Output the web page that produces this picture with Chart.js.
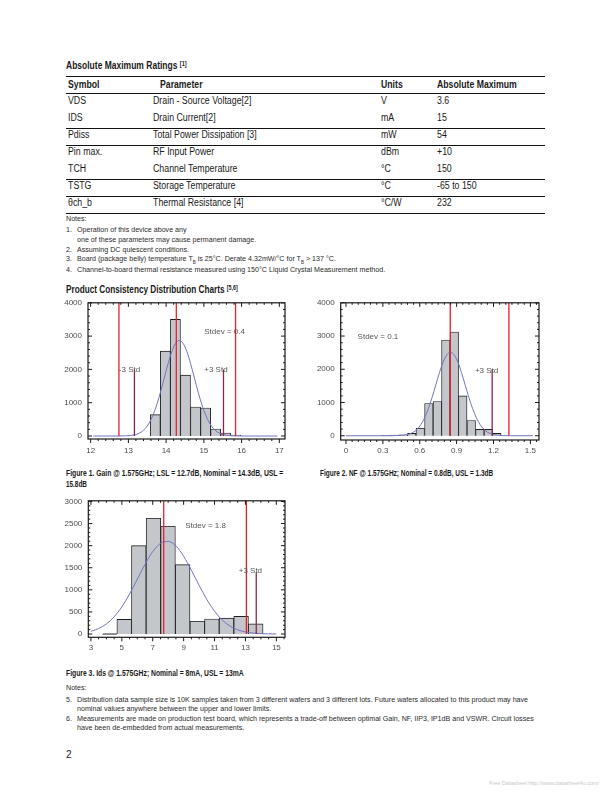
<!DOCTYPE html>
<html>
<head>
<meta charset="utf-8">
<script src="https://cdn.jsdelivr.net/npm/chart.js@4.4.0/dist/chart.umd.min.js"></script>
<style>
  body { margin: 0; width: 612px; height: 792px; background: #fff; position: relative; overflow: hidden;
         font-family: "Liberation Sans", Arial, sans-serif; color: #1a1a1a; }
  .t { position: absolute; white-space: nowrap; line-height: 12px; height: 12px; transform-origin: 0 50%; }
  .b { font-weight: bold; }
  .rule { position: absolute; left: 66px; width: 479px; height: 1.4px; background: #111; }
  .tbl { font-size: 10px; transform: scaleX(.88); }
  .tbl.b { transform: scaleX(.87); }
  .head { font-size: 10px; font-weight: bold; }
  .note { font-size: 8px; color: #2a2a2a; }
  .cap { font-size: 8.5px; font-weight: bold; }
  sup { font-size: 6.5px; vertical-align: 3px; }
  canvas { position: absolute; }
</style>
</head>
<body>

<div class="t head" style="left:66px;top:58px;transform:scaleX(.85)">Absolute Maximum Ratings <sup>[1]</sup></div>
<div class="rule" style="top:76px"></div>
<div class="t b tbl" style="left:68px;top:79px">Symbol</div>
<div class="t b tbl" style="left:160px;top:79px">Parameter</div>
<div class="t b tbl" style="left:381px;top:79px">Units</div>
<div class="t b tbl" style="left:437px;top:79px">Absolute Maximum</div>
<div class="rule" style="top:93px"></div>
<div id="rows"></div>

<div class="t note" style="left:66px;top:213px">Notes:</div>
<div class="t note" style="left:66px;top:224px">1.</div><div class="t note" style="left:77px;top:224px">Operation of this device above any</div>
<div class="t note" style="left:77px;top:234px">one of these parameters may cause permanent damage.</div>
<div class="t note" style="left:66px;top:244px">2.</div><div class="t note" style="left:77px;top:244px">Assuming DC quiescent conditions.</div>
<div class="t note" style="left:66px;top:253px">3.</div><div class="t note" style="left:77px;top:253px">Board (package belly) temperature T<sub style="font-size:5px">B</sub> is 25°C. Derate 4.32mW/°C for T<sub style="font-size:5px">B</sub> &gt; 137 °C.</div>
<div class="t note" style="left:66px;top:264px">4.</div><div class="t note" style="left:77px;top:264px">Channel-to-board thermal resistance measured using 150°C Liquid Crystal Measurement method.</div>

<div class="t head" style="left:66px;top:282px;transform:scaleX(.82)">Product Consistency Distribution Charts <sup>[5,6]</sup></div>

<canvas id="c1" width="240" height="165" style="left:55px;top:292px"></canvas>
<canvas id="c2" width="245" height="165" style="left:305px;top:292px"></canvas>
<canvas id="c3" width="240" height="165" style="left:55px;top:490px"></canvas>

<div class="t cap" data-w="217" style="left:66px;top:467px">Figure 1. Gain @ 1.575GHz; LSL = 12.7dB, Nominal = 14.3dB, USL =</div>
<div class="t cap" data-w="21" style="left:66px;top:478px">15.8dB</div>
<div class="t cap" data-w="173" style="left:320px;top:467px">Figure 2. NF @ 1.575GHz; Nominal = 0.8dB, USL = 1.3dB</div>
<div class="t cap" data-w="178" style="left:66px;top:667px">Figure 3. Ids @ 1.575GHz; Nominal = 8mA, USL = 13mA</div>

<div class="t note" style="left:66px;top:682px">Notes:</div>
<div class="t note" style="left:66px;top:694px">5.</div><div class="t note" id="noteRef" style="left:77px;top:694px">Distribution data sample size is 10K samples taken from 3 different wafers and 3 different lots. Future wafers allocated to this product may have</div>
<div class="t note" style="left:77px;top:703px">nominal values anywhere between the upper and lower limits.</div>
<div class="t note" style="left:66px;top:713px">6.</div><div class="t note" style="left:77px;top:713px">Measurements are made on production test board, which represents a trade-off between optimal Gain, NF, IIP3, IP1dB and VSWR. Circuit losses</div>
<div class="t note" style="left:77px;top:722px">have been de-embedded from actual measurements.</div>

<div class="t" style="left:66px;top:749px;font-size:10px">2</div>
<div class="t" style="left:489px;top:777px;font-size:5.5px;color:#c8c8c8">Free Datasheet http://www.datasheet4u.com/</div>

<script>
const FONT = '"Liberation Sans", Arial, sans-serif';

// table
const symbols = ['VDS', 'IDS', 'Pdiss', 'Pin max.', 'TCH', 'TSTG', 'θch_b'];
const params = ['Drain - Source Voltage[2]', 'Drain Current[2]', 'Total Power Dissipation [3]', 'RF Input Power', 'Channel Temperature', 'Storage Temperature', 'Thermal Resistance [4]'];
const units = ['V', 'mA', 'mW', 'dBm', '°C', '°C', '°C/W'];
const absMax = ['3.6', '15', '54', '+10', '150', '-65 to 150', '232'];
const rulesAfter = [1, 2, 4, 5, 6];

// Figure 1 - gain
const gainBins = [13.713, 13.98, 14.247, 14.513, 14.78, 15.047, 15.313, 15.58, 15.847];
const gainCounts = [640, 2550, 3500, 1830, 870, 840, 210, 90, 30];
const gainCurveX = [12.07, 12.75, 12.95, 13.15, 13.25, 13.35, 13.45, 13.55, 13.65, 13.75, 13.85, 13.95, 14.05, 14.15, 14.25, 14.35, 14.45, 14.55, 14.65, 14.75, 14.85, 14.95, 15.05, 15.15, 15.25, 15.35, 15.45, 15.55, 15.75, 15.95, 16.95];
const gainCurveY = [0, 0, 6, 32, 65, 126, 228, 388, 621, 932, 1314, 1741, 2166, 2533, 2781, 2870, 2781, 2533, 2166, 1741, 1314, 932, 621, 388, 228, 126, 65, 32, 6, 0, 0];
const gainLimits = [12.75, 14.27, 15.84];
const gainStd = [13.16, 15.52];
const gainXTicks = [12, 13, 14, 15, 16, 17];

// Figure 2 - NF
const nfBins = [0.328, 0.397, 0.466, 0.535, 0.604, 0.674, 0.743, 0.812, 0.881, 0.950, 1.019, 1.089, 1.158, 1.227];
const nfCounts = [10, 20, 30, 70, 230, 970, 1030, 2880, 3120, 1200, 460, 190, 190, 70];
const nfCurveX = [0, 0.37, 0.43, 0.49, 0.52, 0.55, 0.58, 0.61, 0.64, 0.67, 0.70, 0.73, 0.76, 0.79, 0.82, 0.85, 0.88, 0.91, 0.94, 0.97, 1.00, 1.03, 1.06, 1.09, 1.12, 1.15, 1.18, 1.21, 1.27, 1.33, 1.52];
const nfCurveY = [0, 0, 6, 28, 57, 110, 200, 340, 543, 815, 1149, 1522, 1895, 2215, 2432, 2510, 2432, 2215, 1895, 1522, 1149, 815, 543, 340, 200, 110, 57, 28, 6, 0, 0];
const nfLimits = [0.848, 1.325];
const nfStd = [1.189];
const nfXTicks = [0, 0.3, 0.6, 0.9, 1.2, 1.5];
const nfXLabels = ['0', '0.3', '0.6', '0.9', '1.2', '1.5'];

// Figure 3 - Ids
const idsBins = [5.153, 6.099, 7.045, 7.991, 8.937, 9.883, 10.829, 11.775, 12.721, 13.667];
const idsCounts = [330, 2000, 2620, 2440, 1570, 290, 340, 360, 400, 230];
const idsCurveX = [3, 3.5, 4, 4.5, 5, 5.5, 6, 6.5, 7, 7.5, 8, 8.5, 9, 9.5, 10, 10.5, 11, 11.5, 12, 12.5, 13, 13.5, 14, 15];
const idsCurveY = [63, 124, 228, 388, 614, 906, 1239, 1577, 1866, 2052, 2097, 1993, 1760, 1445, 1103, 783, 516, 316, 180, 95, 47, 22, 9, 0];
const idsLimits = [7.71, 13.06];
const idsStd = [13.7];
const idsBase = [3.76, 4.68];
const idsXTicks = [3, 5, 7, 9, 11, 13, 15];

const countTicks4k = [0, 1000, 2000, 3000, 4000];
const countTicks3k = [0, 500, 1000, 1500, 2000, 2500, 3000];

// build table rows
const rowsEl = document.getElementById('rows');
symbols.forEach((s, i) => {
  const top = 95 + i * 17;
  [[68, s], [153, params[i]], [381, units[i]], [437, absMax[i]]].forEach(([l, txt]) => {
    const d = document.createElement('div');
    d.className = 't tbl'; d.style.left = l + 'px'; d.style.top = top + 'px'; d.textContent = txt;
    rowsEl.appendChild(d);
  });
  if (rulesAfter.includes(i)) {
    const r = document.createElement('div');
    r.className = 'rule'; r.style.top = (top + 15.5) + 'px';
    rowsEl.appendChild(r);
  }
});

// squeeze text to the condensed widths of the original
document.querySelectorAll('[data-w]').forEach(el => {
  el.style.transform = 'scaleX(' + (+el.dataset.w / el.offsetWidth) + ')';
});
const noteScale = 451 / document.getElementById('noteRef').offsetWidth;
document.querySelectorAll('.note').forEach(el => { el.style.transform = 'scaleX(' + noteScale + ')'; });

// frame, inward ticks and text notes
const framePlugin = {
  id: 'frame',
  afterDatasetsDraw(chart, args, o) {
    const { ctx, chartArea: a, scales: { x, y } } = chart;
    ctx.save();
    ctx.strokeStyle = '#1a1a1a'; ctx.lineWidth = 1.2;
    ctx.strokeRect(a.left, a.top, a.right - a.left, a.bottom - a.top);
    ctx.lineWidth = 1;
    ctx.beginPath();
    const n = Math.ceil((x.max - x.min) / o.xMinor) + 2;
    for (let i = 0; i < n; i++) {
      const v = o.xStart + i * o.xMinor;
      if (v < x.min || v > x.max) continue;
      const px = x.getPixelForValue(v);
      const len = (i % o.xEvery === 0) ? 4 : 2;
      ctx.moveTo(px, a.bottom); ctx.lineTo(px, a.bottom + len);
      ctx.moveTo(px, a.top); ctx.lineTo(px, a.top + len);
    }
    const m = Math.ceil((y.max - y.min) / o.yMinor) + 2;
    for (let i = 0; i < m; i++) {
      const v = i * o.yMinor;
      if (v < y.min || v > y.max) continue;
      const py = y.getPixelForValue(v);
      const len = (i % o.yEvery === 0) ? 4 : 2;
      ctx.moveTo(a.left, py); ctx.lineTo(a.left + len, py);
      ctx.moveTo(a.right, py); ctx.lineTo(a.right - len, py);
    }
    ctx.stroke();
    ctx.fillStyle = '#555'; ctx.font = '8px ' + FONT;
    ctx.textAlign = 'center'; ctx.textBaseline = 'middle';
    o.notes.forEach(t => ctx.fillText(t.text, x.getPixelForValue(t.x), y.getPixelForValue(t.y)));
    ctx.restore();
  }
};

function vline(xv, y0, y1, color, w) {
  return { type: 'line', data: [{ x: xv, y: y0 }, { x: xv, y: y1 }], borderColor: color, borderWidth: w, pointRadius: 0, order: 1 };
}

function histChart(id, c) {
  const datasets = [
    { type: 'bar', data: c.bins.map((xv, i) => ({ x: xv, y: c.counts[i] })), backgroundColor: '#c3c7cc',
      borderColor: '#1e1e1e', borderWidth: 0.9, barPercentage: 1, categoryPercentage: 1, order: 5 },
    { type: 'line', data: c.curveX.map((xv, i) => ({ x: xv, y: c.curveY[i] })), borderColor: '#7175c2',
      borderWidth: 1, pointRadius: 0, cubicInterpolationMode: 'monotone', order: 2 }
  ];
  c.limits.forEach(l => datasets.push(vline(l, 0, c.yMax, '#e8202a', 1.3)));
  c.std.forEach(s => datasets.push(vline(s, 0, c.stdTop, '#8a2556', 1.3)));
  if (c.base) datasets.push({ type: 'line', data: c.base.map(v => ({ x: v, y: 0 })), borderColor: '#222', borderWidth: 1, pointRadius: 0, order: 3 });

  new Chart(document.getElementById(id), {
    type: 'bar',
    data: { datasets },
    options: {
      responsive: false, animation: false,
      layout: { padding: { top: c.padTop, right: c.padRight, left: 0, bottom: 0 } },
      plugins: { legend: { display: false }, tooltip: { enabled: false }, frame: c.frame },
      scales: {
        x: { type: 'linear', min: c.xMin, max: c.xMax, offset: false,
             grid: { display: false, drawTicks: false, offset: false }, border: { display: false },
             afterBuildTicks: s => { s.ticks = c.xTicks.map(v => ({ value: v })); },
             afterFit: s => { s.height = c.xH; },
             ticks: { padding: c.xPad, color: '#4d4d4d', font: { size: 8, family: FONT }, maxRotation: 0,
                      callback: (v, i) => c.xLabels ? c.xLabels[i] : String(v) } },
        y: { min: c.yMin, max: c.yMax, grid: { display: false, drawTicks: false }, border: { display: false },
             afterBuildTicks: s => { s.ticks = c.yTicks.map(v => ({ value: v })); },
             afterFit: s => { s.width = c.yW; },
             ticks: { padding: 6, color: '#4d4d4d', font: { size: 8, family: FONT }, callback: v => String(v) } }
      }
    },
    plugins: [framePlugin]
  });
}

histChart('c1', {
  bins: gainBins, counts: gainCounts, curveX: gainCurveX, curveY: gainCurveY,
  limits: gainLimits, std: gainStd, stdTop: 2000,
  xMin: 11.93, xMax: 17.15, yMin: -90, yMax: 4000, xTicks: gainXTicks, yTicks: countTicks4k,
  padTop: 10, padRight: 10, xH: 18, yW: 33, xPad: 7,
  frame: { xStart: 12, xMinor: 0.2, xEvery: 5, yMinor: 200, yEvery: 5,
           notes: [{ text: '-3 Std', x: 13.03, y: 2000 }, { text: '+3 Std', x: 15.32, y: 2000 }, { text: 'Stdev = 0.4', x: 15.55, y: 3140 }] }
});

histChart('c2', {
  bins: nfBins, counts: nfCounts, curveX: nfCurveX, curveY: nfCurveY,
  limits: nfLimits, std: nfStd, stdTop: 2000,
  xMin: -0.043, xMax: 1.57, yMin: -128, yMax: 4000, xTicks: nfXTicks, xLabels: nfXLabels, yTicks: countTicks4k,
  padTop: 9.7, padRight: 11, xH: 17, yW: 35.7, xPad: 6,
  frame: { xStart: 0, xMinor: 0.05, xEvery: 6, yMinor: 200, yEvery: 5,
           notes: [{ text: '+3 Std', x: 1.144, y: 1960 }, { text: 'Stdev = 0.1', x: 0.26, y: 2985 }] }
});

histChart('c3', {
  bins: idsBins, counts: idsCounts, curveX: idsCurveX, curveY: idsCurveY,
  limits: idsLimits, std: idsStd, stdTop: 1400, base: idsBase,
  xMin: 2.83, xMax: 15.56, yMin: -74, yMax: 3015, xTicks: idsXTicks, yTicks: countTicks3k,
  padTop: 9.3, padRight: 10, xH: 17.7, yW: 33.3, xPad: 6,
  frame: { xStart: 3, xMinor: 0.5, xEvery: 4, yMinor: 100, yEvery: 5,
           notes: [{ text: '+3 Std', x: 13.32, y: 1430 }, { text: 'Stdev = 1.8', x: 10.42, y: 2440 }] }
});
</script>
</body>
</html>
